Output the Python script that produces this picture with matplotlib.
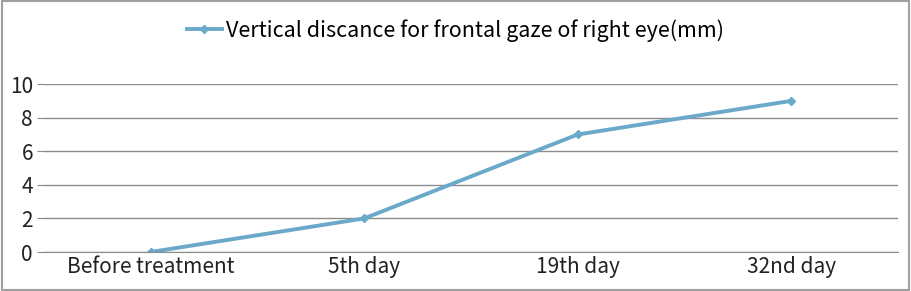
import matplotlib.pyplot as plt
from matplotlib.patches import Rectangle

categories = ['Before treatment', '5th day', '19th day', '32nd day']
distance_mm = [0, 2, 7, 9]
y_ticks = [0, 2, 4, 6, 8, 10]
series_label = 'Vertical discance for frontal gaze of right eye(mm)'

plt.rcParams['font.family'] = ['Noto Sans CJK KR', 'DejaVu Sans']

fig = plt.figure(figsize=(9.11, 2.91), dpi=100)
ax = fig.add_axes([0.0483, 0.134, 0.9374, 0.577])

x = range(len(categories))
line, = ax.plot(x, distance_mm, color='#6aa9c9', linewidth=2.8, marker='D',
                markersize=4.5, label=series_label)

ax.set_xlim(-0.5, len(categories) - 0.5)
ax.set_ylim(0, 10)
ax.set_xticks(list(x))
ax.set_xticklabels(categories, fontsize=15, color='#222222')
ax.set_yticks(y_ticks)
ax.set_yticklabels([str(v) for v in y_ticks], fontsize=15, color='#222222')
ax.tick_params(axis='x', length=0, pad=3)
ax.tick_params(axis='y', length=5, color='#888888', pad=3)
ax.grid(axis='y', color='#8c8c8c', linewidth=1)
ax.set_axisbelow(True)
for side in ['top', 'right', 'left']:
    ax.spines[side].set_visible(False)
ax.spines['bottom'].set_color('#8c8c8c')

fig.legend(handles=[line], loc='center', bbox_to_anchor=(0.5, 0.895), frameon=False,
           fontsize=15.5, handlelength=1.6, handletextpad=0.2)

fig.patches.append(Rectangle((0.002, 0.005), 0.996, 0.99, transform=fig.transFigure,
                             fill=False, edgecolor='#a0a0a0', linewidth=1.5))

fig.savefig('out.png', dpi=100)
